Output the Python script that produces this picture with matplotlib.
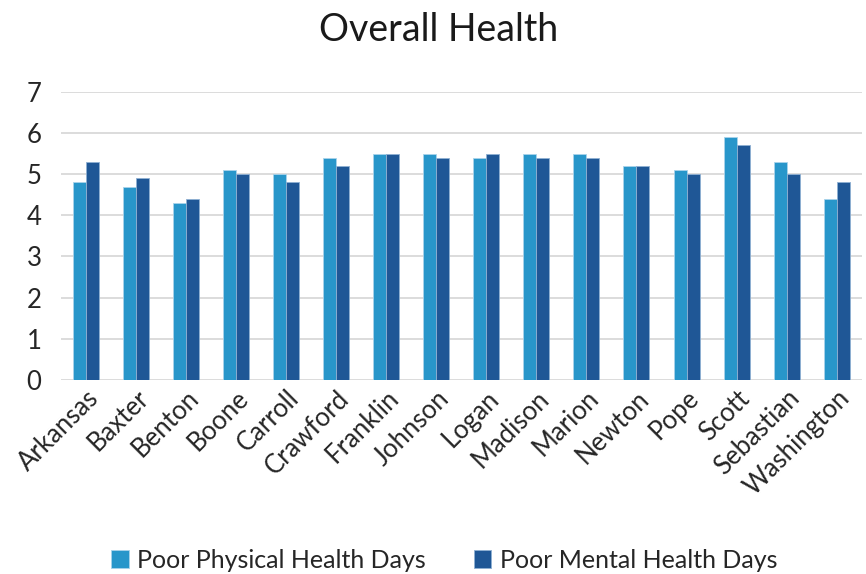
import numpy as np
import matplotlib.pyplot as plt

counties = ['Arkansas', 'Baxter', 'Benton', 'Boone', 'Carroll', 'Crawford', 'Franklin',
            'Johnson', 'Logan', 'Madison', 'Marion', 'Newton', 'Pope', 'Scott',
            'Sebastian', 'Washington']
physical_days = [4.8, 4.7, 4.3, 5.1, 5.0, 5.4, 5.5, 5.5, 5.4, 5.5, 5.5, 5.2, 5.1, 5.9, 5.3, 4.4]
mental_days = [5.3, 4.9, 4.4, 5.0, 4.8, 5.2, 5.5, 5.4, 5.5, 5.4, 5.4, 5.2, 5.0, 5.7, 5.0, 4.8]

plt.rcParams['font.family'] = ['Lato', 'DejaVu Sans']

fig = plt.figure(figsize=(8.66, 5.74), dpi=100)
ax = fig.add_axes([0.0704, 0.338, 0.9246, 0.502])

x = np.arange(len(counties))
w = 0.26
ax.bar(x - w / 2, physical_days, w, color='#2896ca', edgecolor='#a9d3ea', linewidth=0.6,
       label='Poor Physical Health Days', zorder=3)
ax.bar(x + w / 2, mental_days, w, color='#1f5796', edgecolor='#8fb0d3', linewidth=0.6,
       label='Poor Mental Health Days', zorder=3)

ax.set_xlim(-0.5, len(counties) - 0.5)
ax.set_ylim(0, 7)
ax.set_yticks(range(8))
ax.grid(axis='y', color='#d9d9d9', linewidth=1.3, zorder=0)
for s in ax.spines.values():
    s.set_visible(False)
ax.tick_params(axis='both', length=0, labelsize=18.5, colors='#262626')
ax.tick_params(axis='y', pad=14)
ax.set_xticks(x)
ax.set_xticklabels(counties, rotation=45, ha='right', rotation_mode='anchor')
ax.tick_params(axis='x', pad=4)

# title centred on the whole figure, not the axes
fig.text(0.507, 0.948, 'Overall Health', fontsize=27, color='#1a1a1a',
         ha='center', va='center')

fig.legend(loc='lower center', bbox_to_anchor=(0.513, -0.035), ncol=2, frameon=False,
           fontsize=18, handlelength=0.7, handleheight=0.7, columnspacing=1.9,
           handletextpad=0.35)
for t in fig.legends[0].get_texts():
    t.set_color('#262626')

fig.savefig('out.png', dpi=100)
